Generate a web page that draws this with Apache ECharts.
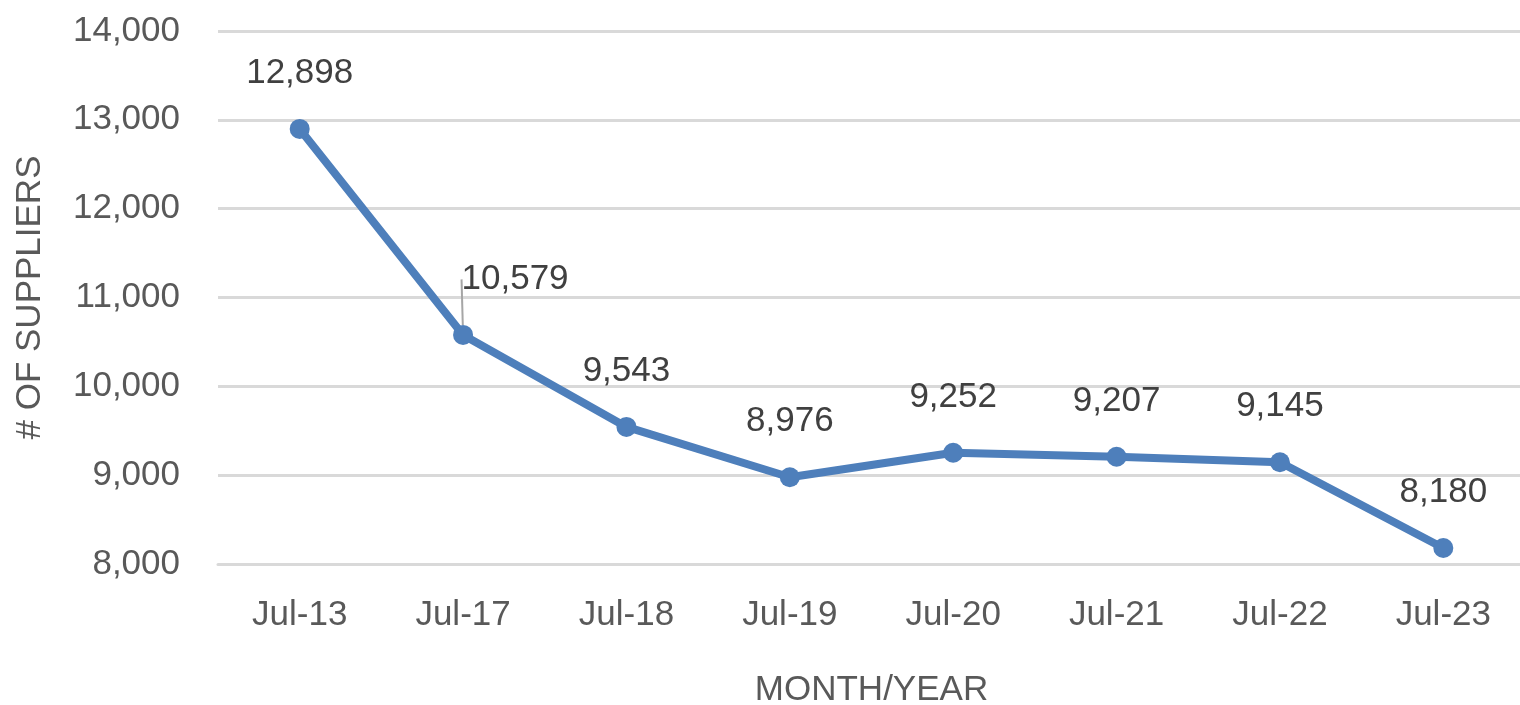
<!DOCTYPE html>
<html lang="en" style="height: 100%">
<head>
  <meta charset="utf-8">
</head>
<body style="height: 100%; margin: 0; background: #fff">
  <div id="container" style="height: 100%"></div>

<script type="text/javascript" src="https://cdn.jsdelivr.net/npm/echarts@6/dist/echarts.min.js"></script>

<script type="text/javascript">
var dom = document.getElementById('container');
var myChart = echarts.init(dom, null, { renderer: 'canvas' });

// data
var months = ['Jul-13', 'Jul-17', 'Jul-18', 'Jul-19', 'Jul-20', 'Jul-21', 'Jul-22', 'Jul-23'];
var suppliers = [12898, 10579, 9543, 8976, 9252, 9207, 9145, 8180];

var font = 'Liberation Sans';

// only the Jul-17 label is pushed aside, with a leader line
var seriesData = suppliers.map(function (v, i) {
  if (i === 1) {
    return { value: v, labelLine: { show: true } };
  }
  return v;
});

var option = {
  animation: false,
  grid: { left: 218, right: -5, top: 31, bottom: 141, outerBoundsMode: 'none', containLabel: false },
  xAxis: {
    type: 'category',
    data: months,
    name: 'MONTH/YEAR',
    nameLocation: 'middle',
    nameGap: 109,
    nameTextStyle: { color: '#595959', fontSize: 35, fontFamily: font },
    axisLine: { lineStyle: { color: '#d9d9d9', width: 3 } },
    axisTick: { length: 14, lineStyle: { color: '#d9d9d9', width: 3 } },
    axisLabel: { color: '#595959', fontSize: 35, fontFamily: font, margin: 34 }
  },
  yAxis: {
    type: 'value',
    min: 8000,
    max: 14000,
    interval: 1000,
    name: '# OF SUPPLIERS',
    nameLocation: 'middle',
    nameGap: 170,
    nameTextStyle: { color: '#595959', fontSize: 35, fontFamily: font },
    axisLine: { show: false },
    axisTick: { show: false },
    splitLine: { lineStyle: { color: '#d9d9d9', width: 3 } },
    axisLabel: {
      color: '#595959', fontSize: 35, fontFamily: font, margin: 38,
      padding: [0, 0, 12, 0],
      formatter: function (v) { return v.toLocaleString('en-US'); }
    }
  },
  series: [
    {
      type: 'line',
      data: seriesData,
      symbol: 'circle',
      symbolSize: 20,
      lineStyle: { color: '#4e7fbb', width: 8 },
      itemStyle: { color: '#4e7fbb' },
      label: {
        show: true,
        position: 'top',
        distance: 28,
        color: '#404040',
        fontSize: 35,
        fontFamily: font,
        formatter: function (p) { return p.value.toLocaleString('en-US'); }
      },
      labelLine: { show: false, lineStyle: { color: '#a6a6a6', width: 2 } },
      labelLayout: function (params) {
        if (params.dataIndex === 1) {
          return { dx: 52, dy: 0 };
        }
        return {};
      }
    }
  ]
};

myChart.setOption(option);
window.addEventListener('resize', myChart.resize);
</script>
</body>
</html>
